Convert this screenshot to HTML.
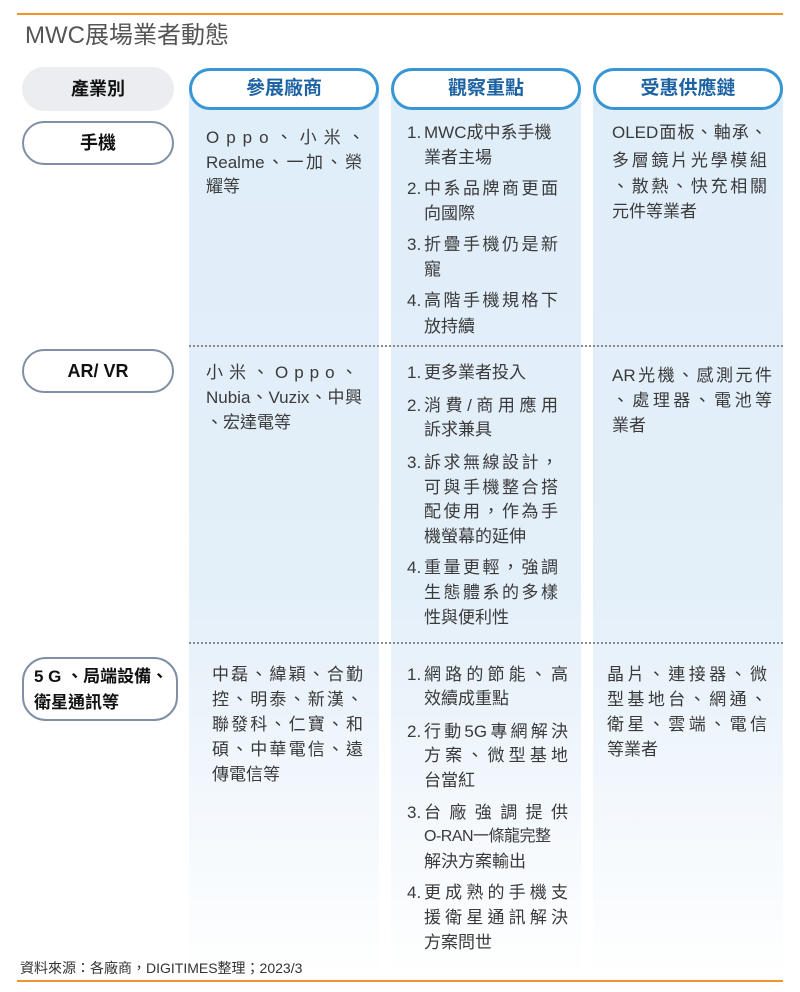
<!DOCTYPE html>
<html><head><meta charset="utf-8"><style>
body{margin:0;width:800px;height:992px;background:#fff;position:relative;overflow:hidden;font-family:"Liberation Sans","Noto Sans CJK TC",sans-serif;color:#3a3a3a}
.a{position:absolute}
.l{position:absolute;height:24px;line-height:24px;font-size:17px;white-space:nowrap}
.j{text-align:justify;text-align-last:justify}
.col{position:absolute;top:90px;height:890px;background:linear-gradient(#e0eef9 0%,#e3eff9 55%,#ffffff 100%)}
.hp{position:absolute;top:68px;height:36px;border:3px solid #3796d3;border-radius:22px;background:#fff;text-align:center;line-height:36px;font-size:19px;font-weight:bold;color:#1d62a3}
.rp{position:absolute;border:2px solid #7f8fa6;border-radius:24px;background:#fff;font-size:18px;font-weight:bold;color:#111;white-space:nowrap}
.dot{position:absolute;left:189px;width:594px;border-top:2px dotted #8a8a8a}
.n{position:absolute;height:24px;line-height:24px;font-size:17px}
</style></head><body>
<div class="a" style="left:17px;top:13px;width:766px;height:2px;background:#f0932b"></div>
<div class="a" style="left:25px;top:20px;font-size:24px;color:#555;line-height:32px">MWC展場業者動態</div>

<div class="col" style="left:189px;width:190px"></div>
<div class="col" style="left:391px;width:190px"></div>
<div class="col" style="left:593px;width:190px"></div>

<div class="a" style="left:22px;top:67px;width:152px;height:44px;border-radius:22px;background:#ebedf0;text-align:center;line-height:44px;font-size:18px;font-weight:bold;color:#111">產業別</div>
<div class="hp" style="left:189px;width:184px">參展廠商</div>
<div class="hp" style="left:391px;width:184px">觀察重點</div>
<div class="hp" style="left:593px;width:184px">受惠供應鏈</div>

<div class="rp" style="left:22px;top:121px;width:148px;height:40px;line-height:40px;text-align:center">手機</div>
<div class="rp" style="left:22px;top:349px;width:148px;height:40px;line-height:40px;text-align:center">AR/ VR</div>
<div class="rp" style="left:22px;top:657px;width:156px;height:64px;line-height:26px;padding-top:5px;box-sizing:border-box;padding-left:10px;font-size:17px">5 G 、局端設備、<br>衛星通訊等</div>

<div class="dot" style="top:345px"></div>
<div class="dot" style="top:642px"></div>

<!-- row1 col1 -->
<div class="l" style="left:206px;top:126px;letter-spacing:7px">Oppo、小米、</div>
<div class="l j" style="left:206px;top:151px;width:156px">Realme、一加、榮</div>
<div class="l" style="left:206px;top:175px">耀等</div>
<!-- row1 col2 -->
<div class="n" style="left:407px;top:121px">1.</div><div class="l" style="left:424px;top:121px">MWC成中系手機</div>
<div class="l" style="left:424px;top:146px">業者主場</div>
<div class="n" style="left:407px;top:177px">2.</div><div class="l j" style="left:424px;top:177px;width:134px">中系品牌商更面</div>
<div class="l" style="left:424px;top:202px">向國際</div>
<div class="n" style="left:407px;top:233px">3.</div><div class="l j" style="left:424px;top:233px;width:134px">折疊手機仍是新</div>
<div class="l" style="left:424px;top:258px">寵</div>
<div class="n" style="left:407px;top:289px">4.</div><div class="l j" style="left:424px;top:289px;width:134px">高階手機規格下</div>
<div class="l" style="left:424px;top:315px">放持續</div>
<!-- row1 col3 -->
<div class="l j" style="left:612px;top:121px;width:155px">OLED面板、軸承、</div>
<div class="l j" style="left:612px;top:149px;width:155px">多層鏡片光學模組</div>
<div class="l j" style="left:612px;top:175px;width:155px">、散熱、快充相關</div>
<div class="l" style="left:612px;top:200px">元件等業者</div>

<!-- row2 col1 -->
<div class="l" style="left:206px;top:361px;letter-spacing:6px">小米、Oppo、</div>
<div class="l j" style="left:206px;top:386px;width:156px">Nubia、Vuzix、中興</div>
<div class="l" style="left:206px;top:411px">、宏達電等</div>
<!-- row2 col2 -->
<div class="n" style="left:407px;top:361px">1.</div><div class="l" style="left:424px;top:361px">更多業者投入</div>
<div class="n" style="left:407px;top:394px">2.</div><div class="l j" style="left:424px;top:394px;width:134px">消費/商用應用</div>
<div class="l" style="left:424px;top:418px">訴求兼具</div>
<div class="n" style="left:407px;top:451px">3.</div><div class="l j" style="left:424px;top:451px;width:134px">訴求無線設計，</div>
<div class="l j" style="left:424px;top:476px;width:134px">可與手機整合搭</div>
<div class="l j" style="left:424px;top:500px;width:134px">配使用，作為手</div>
<div class="l" style="left:424px;top:525px">機螢幕的延伸</div>
<div class="n" style="left:407px;top:556px">4.</div><div class="l j" style="left:424px;top:556px;width:134px">重量更輕，強調</div>
<div class="l j" style="left:424px;top:581px;width:134px">生態體系的多樣</div>
<div class="l" style="left:424px;top:606px">性與便利性</div>
<!-- row2 col3 -->
<div class="l j" style="left:612px;top:364px;width:160px">AR光機、感測元件</div>
<div class="l j" style="left:612px;top:389px;width:160px">、處理器、電池等</div>
<div class="l" style="left:612px;top:414px">業者</div>

<!-- row3 col1 -->
<div class="l j" style="left:212px;top:663px;width:151px">中磊、緯穎、合勤</div>
<div class="l j" style="left:212px;top:688px;width:151px">控、明泰、新漢、</div>
<div class="l j" style="left:212px;top:713px;width:151px">聯發科、仁寶、和</div>
<div class="l j" style="left:212px;top:738px;width:151px">碩、中華電信、遠</div>
<div class="l" style="left:212px;top:763px">傳電信等</div>
<!-- row3 col2 -->
<div class="n" style="left:407px;top:663px">1.</div><div class="l j" style="left:424px;top:663px;width:144px">網路的節能、高</div>
<div class="l" style="left:424px;top:687px">效續成重點</div>
<div class="n" style="left:407px;top:720px">2.</div><div class="l j" style="left:424px;top:720px;width:144px">行動5G專網解決</div>
<div class="l j" style="left:424px;top:744px;width:144px">方案、微型基地</div>
<div class="l" style="left:424px;top:769px">台當紅</div>
<div class="n" style="left:407px;top:801px">3.</div><div class="l j" style="left:424px;top:801px;width:144px">台廠強調提供</div>
<div class="l" style="left:424px;top:825px;font-size:16px;letter-spacing:-0.5px">O-RAN一條龍完整</div>
<div class="l" style="left:424px;top:850px">解決方案輸出</div>
<div class="n" style="left:407px;top:881px">4.</div><div class="l j" style="left:424px;top:881px;width:144px">更成熟的手機支</div>
<div class="l j" style="left:424px;top:906px;width:144px">援衛星通訊解決</div>
<div class="l" style="left:424px;top:931px">方案問世</div>
<!-- row3 col3 -->
<div class="l j" style="left:607px;top:663px;width:160px">晶片、連接器、微</div>
<div class="l j" style="left:607px;top:688px;width:160px">型基地台、網通、</div>
<div class="l j" style="left:607px;top:713px;width:160px">衛星、雲端、電信</div>
<div class="l" style="left:607px;top:738px">等業者</div>

<div class="a" style="left:20px;top:958px;font-size:14px;line-height:20px;color:#333">資料來源：各廠商，DIGITIMES整理；2023/3</div>
<div class="a" style="left:17px;top:980px;width:766px;height:2px;background:#f0932b"></div>
</body></html>
